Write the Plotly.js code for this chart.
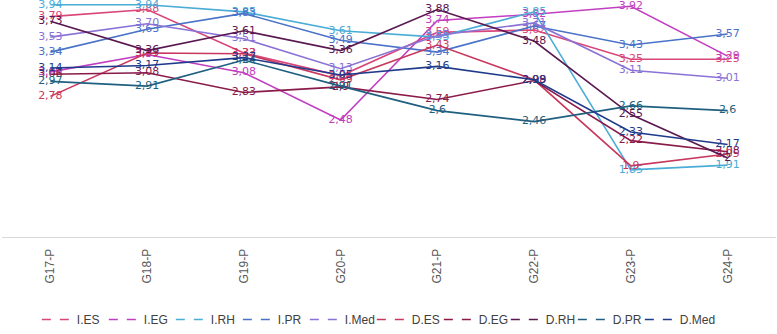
<!DOCTYPE html>
<html>
<head>
<meta charset="utf-8">
<script src="https://cdn.plot.ly/plotly-3.0.1.min.js"></script>
<style>html,body{margin:0;padding:0;background:#fff;}#chart{width:777px;height:334px;}</style>
</head>
<body>
<div id="chart"></div>
<script>
const categories = ["G17-P","G18-P","G19-P","G20-P","G21-P","G22-P","G23-P","G24-P"];
const seriesNames = ["I.ES","I.EG","I.RH","I.PR","I.Med","D.ES","D.EG","D.RH","D.PR","D.Med"];
const iES  = [3.79, 3.88, 3.33, 3.04, 3.59, 3.62, 3.25, 3.25];
const iEG  = [3.09, 3.31, 3.08, 2.48, 3.74, 3.82, 3.92, 3.29];
const iRH  = [3.94, 3.94, 3.85, 3.61, 3.53, 3.85, 1.85, 1.91];
const iPR  = [3.34, 3.63, 3.83, 3.49, 3.34, 3.67, 3.43, 3.57];
const iMed = [3.53, 3.70, 3.51, 3.13, 3.55, 3.71, 3.11, 3.01];
const dES  = [2.78, 3.33, 3.32, 2.99, 3.43, 2.99, 1.9, 2.05];
const dEG  = [3.06, 3.08, 2.83, 2.9, 2.74, 2.98, 2.22, 2.08];
const dRH  = [3.73, 3.36, 3.61, 3.36, 3.88, 3.48, 2.55, 2];
const dPR  = [2.97, 2.91, 3.24, 2.91, 2.6, 2.46, 2.66, 2.6];
const dMed = [3.14, 3.17, 3.27, 3.05, 3.16, 2.99, 2.33, 2.17];
const iMedLabels = ["3,53","3,70","3,51","3,13","3,55","3,71","3,11","3,01"];
const allValues = [iES, iEG, iRH, iPR, iMed, dES, dEG, dRH, dPR, dMed];
const colors = ["#d9467a","#c23ec0","#4bacd6","#4a72c8","#8b72d6","#c8385e","#8a1a4a","#5a1850","#1f5f7f","#1f3a8a"];

const fmt = v => String(v).replace('.', ',');
const traces = [];
seriesNames.forEach((name, i) => {
  traces.push({
    type: 'scatter', mode: 'lines+text', name: name, legendgroup: name, showlegend: false,
    x: categories, y: allValues[i],
    text: name === 'I.Med' ? iMedLabels : allValues[i].map(fmt),
    textposition: 'middle center', cliponaxis: false,
    textfont: {family: 'DejaVu Sans, sans-serif', size: 11, color: colors[i]},
    line: {color: colors[i], width: 1.6}, hoverinfo: 'skip'
  });
});
seriesNames.forEach((name, i) => {
  traces.push({
    type: 'scatter', mode: 'lines', name: name, legendgroup: name, showlegend: true,
    x: [categories[0]], y: [null],
    line: {color: colors[i], width: 1.6, dash: 'dash'}
  });
});
// empty spacer entry so the last legend label is not clipped
traces.push({type: 'scatter', mode: 'lines', name: ' ', showlegend: true,
  x: [categories[0]], y: [null], line: {color: 'rgba(0,0,0,0)', width: 0}});

const layout = {
  width: 777, height: 334,
  margin: {l: 2, r: 1, t: 0, b: 97},
  paper_bgcolor: '#fff', plot_bgcolor: '#fff',
  showlegend: true,
  legend: {orientation: 'h', x: 0.045, xanchor: 'left', y: 0, yanchor: 'bottom', yref: 'container',
           bgcolor: 'rgba(0,0,0,0)',
           font: {family: 'Liberation Sans, Arial, sans-serif', size: 12, color: '#404040'},
           entrywidth: 22, itemwidth: 30, tracegroupgap: 0},
  xaxis: {type: 'category', range: [-0.5, 7.5], showgrid: false, zeroline: false,
          showline: true, linecolor: '#d9d9d9', linewidth: 1, ticks: '',
          tickangle: -90, tickfont: {family: 'Liberation Sans, Arial, sans-serif', size: 12, color: '#595959'},
          ticklabelstandoff: 6},
  yaxis: {range: [1, 4], visible: false, showgrid: false, zeroline: false, fixedrange: true}
};
Plotly.newPlot('chart', traces, layout, {displayModeBar: false, staticPlot: true});
</script>
</body>
</html>
